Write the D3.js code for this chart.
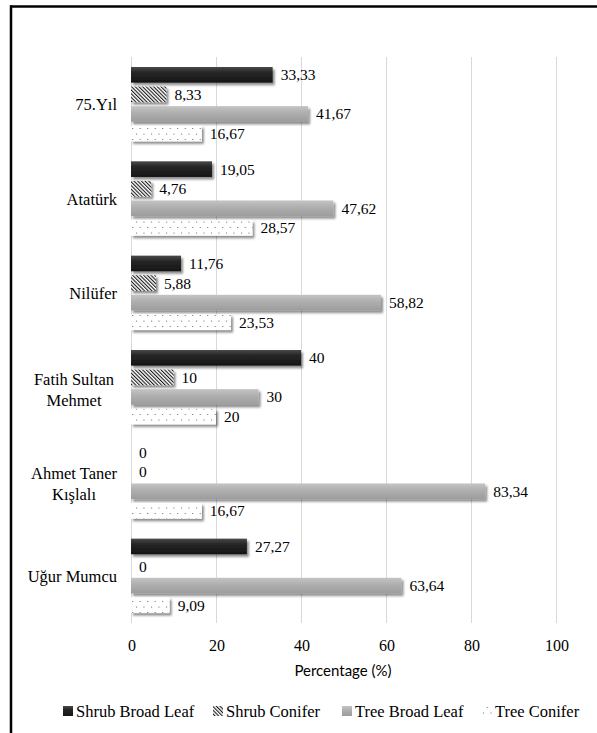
<!DOCTYPE html>
<html>
<head>
<meta charset="utf-8">
<script src="https://cdn.jsdelivr.net/npm/d3@7"></script>
<style>
	html, body { margin: 0; padding: 0; background: #fff; }
	svg { display: block; }
</style>
</head>
<body>
<script>
const categories = ['75.Yıl', 'Atatürk', 'Nilüfer', 'Fatih Sultan Mehmet', 'Ahmet Taner Kışlalı', 'Uğur Mumcu']
const categoryLines = [['75.Yıl'], ['Atatürk'], ['Nilüfer'], ['Fatih Sultan', 'Mehmet'], ['Ahmet Taner', 'Kışlalı'], ['Uğur Mumcu']]
const seriesNames = ['Shrub Broad Leaf', 'Shrub Conifer', 'Tree Broad Leaf', 'Tree Conifer']
const shrubBroadLeaf = [33.33, 19.05, 11.76, 40, 0, 27.27]
const shrubConifer = [8.33, 4.76, 5.88, 10, 0, 0]
const treeBroadLeaf = [41.67, 47.62, 58.82, 30, 83.34, 63.64]
const treeConifer = [16.67, 28.57, 23.53, 20, 16.67, 9.09]
const xTicks = [0, 20, 40, 60, 80, 100]
const axisTitle = 'Percentage (%)'

const seriesValues = [shrubBroadLeaf, shrubConifer, treeBroadLeaf, treeConifer]
const fills = ['url(#g-dark)', 'url(#p-hatch)', 'url(#g-gray)', 'url(#p-dots)']

const SERIF = '"Liberation Serif"'
const SANS = '"Lato"'

const W = 597
const H = 733
const margin = { top: 57, bottom: 110, left: 131, right: 41 }
const legendX = [63, 213, 342, 482]

const data = []
categories.forEach((c, i) => {
	seriesNames.forEach((s, j) => {
		data.push({ cat: c, series: s, value: seriesValues[j][i], fill: fills[j] })
	})
})

const scaleX = d3.scaleLinear()
	.domain([0, 100])
	.range([margin.left, W - margin.right])

const scaleY = d3.scaleBand()
	.domain(categories)
	.range([margin.top, H - margin.bottom])
	.paddingInner(0.17)
	.paddingOuter(0.085)

const scaleInner = d3.scaleBand()
	.domain(seriesNames)
	.range([0, scaleY.bandwidth()])
	.paddingInner(0.2)
	.paddingOuter(0.1)

const fmt = v => String(v).replace('.', ',')

const svg = d3.select('body').append('svg')
	.attr('width', W)
	.attr('height', H)

svg.append('rect').attr('width', W).attr('height', H).attr('fill', '#fff')

// defs: gradients, patterns, shadow
const defs = svg.append('defs')

const gDark = defs.append('linearGradient').attr('id', 'g-dark')
	.attr('x1', 0).attr('y1', 0).attr('x2', 0).attr('y2', 1)
gDark.append('stop').attr('offset', '0%').attr('stop-color', '#4a4a4a')
gDark.append('stop').attr('offset', '35%').attr('stop-color', '#262626')
gDark.append('stop').attr('offset', '100%').attr('stop-color', '#161616')

const gGray = defs.append('linearGradient').attr('id', 'g-gray')
	.attr('x1', 0).attr('y1', 0).attr('x2', 0).attr('y2', 1)
gGray.append('stop').attr('offset', '0%').attr('stop-color', '#c4c4c4')
gGray.append('stop').attr('offset', '40%').attr('stop-color', '#b0b0b0')
gGray.append('stop').attr('offset', '100%').attr('stop-color', '#9c9c9c')

const hatch = defs.append('pattern').attr('id', 'p-hatch')
	.attr('patternUnits', 'userSpaceOnUse')
	.attr('width', 2.6).attr('height', 2.6)
	.attr('patternTransform', 'rotate(-45)')
hatch.append('rect').attr('width', 2.6).attr('height', 2.6).attr('fill', '#fff')
hatch.append('rect').attr('width', 1.1).attr('height', 2.6).attr('fill', '#1a1a1a')

const dots = defs.append('pattern').attr('id', 'p-dots')
	.attr('patternUnits', 'userSpaceOnUse')
	.attr('width', 7.5).attr('height', 11)
dots.append('rect').attr('width', 7.5).attr('height', 11).attr('fill', '#fff')
dots.append('circle').attr('cx', 1.5).attr('cy', 2).attr('r', 0.6).attr('fill', '#555')
dots.append('circle').attr('cx', 5.25).attr('cy', 7.5).attr('r', 0.6).attr('fill', '#555')

defs.append('filter').attr('id', 'shadow')
	.attr('x', '-10%').attr('y', '-30%').attr('width', '130%').attr('height', '190%')
	.append('feDropShadow')
	.attr('dx', 2).attr('dy', 2.5).attr('stdDeviation', 1.3)
	.attr('flood-color', '#000').attr('flood-opacity', 0.45)

// frame lines
svg.append('line')
	.attr('x1', 10).attr('x2', W).attr('y1', 6.5).attr('y2', 6.5)
	.attr('stroke', '#000').attr('stroke-width', 2.5)
svg.append('line')
	.attr('x1', 11).attr('x2', 11).attr('y1', 5.5).attr('y2', H)
	.attr('stroke', '#000').attr('stroke-width', 2.5)

// gridlines
svg.append('g').attr('class', 'grid')
	.selectAll('line').data(xTicks).enter().append('line')
	.attr('x1', d => Math.round(scaleX(d)) + 0.5)
	.attr('x2', d => Math.round(scaleX(d)) + 0.5)
	.attr('y1', margin.top)
	.attr('y2', H - margin.bottom)
	.attr('stroke', '#d9d9d9')
	.attr('stroke-width', 1)

// x tick labels
svg.append('g').attr('class', 'axis axis--x')
	.selectAll('text').data(xTicks).enter().append('text')
	.style('font-family', SERIF)
	.style('font-size', '16px')
	.attr('x', d => scaleX(d) + 1)
	.attr('y', 651)
	.attr('text-anchor', 'middle')
	.text(d => d)

svg.append('text')
	.style('font-family', SANS)
	.style('font-size', '15px')
	.attr('x', 343)
	.attr('y', 676)
	.attr('text-anchor', 'middle')
	.text(axisTitle)

// category labels: single lines end-aligned, wrapped ones centred
const catG = svg.append('g').attr('class', 'axis axis--y')
categories.forEach((c, i) => {
	const lines = categoryLines[i]
	const lh = 21
	const cy = scaleY(c) + scaleY.bandwidth() / 2
	const multi = lines.length > 1
	const t = catG.append('text')
		.style('font-family', SERIF)
		.style('font-size', '16.5px')
		.attr('text-anchor', multi ? 'middle' : 'end')
	lines.forEach((l, k) => t.append('tspan')
		.attr('x', multi ? 74 : 117)
		.attr('y', cy + 6 + (k - (lines.length - 1) / 2) * lh + (multi ? 2 : 0))
		.text(l))
})

// bars
const barG = svg.append('g').attr('class', 'bars')
barG.selectAll('rect').data(data.filter(d => d.value > 0)).enter().append('rect')
	.attr('x', scaleX(0))
	.attr('y', d => scaleY(d.cat) + scaleInner(d.series))
	.attr('width', d => scaleX(d.value) - scaleX(0))
	.attr('height', scaleInner.bandwidth())
	.attr('fill', d => d.fill)
	.attr('filter', 'url(#shadow)')

// value labels
svg.append('g').attr('class', 'labels')
	.selectAll('text').data(data).enter().append('text')
	.style('font-family', SERIF)
	.style('font-size', '15.5px')
	.attr('x', d => scaleX(d.value) + 8)
	.attr('y', d => scaleY(d.cat) + scaleInner(d.series) + scaleInner.bandwidth() / 2 + 5.5)
	.text(d => fmt(d.value))

// legend
const legend = svg.append('g').attr('class', 'legend')
seriesNames.forEach((s, j) => {
	const item = legend.append('g').attr('transform', `translate(${legendX[j]}, 711)`)
	item.append('rect')
		.attr('x', 0).attr('y', -5)
		.attr('width', 10).attr('height', 10)
		.attr('fill', fills[j])
	item.append('text')
		.style('font-family', SERIF)
		.style('font-size', '16.5px')
		.attr('x', 13)
		.attr('y', 5.5)
		.text(s)
})
</script>
</body>
</html>
